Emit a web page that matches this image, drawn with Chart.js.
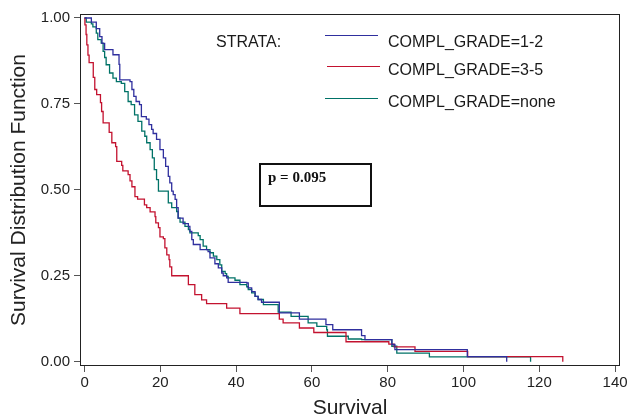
<!DOCTYPE html>
<html>
<head>
<meta charset="utf-8">
<script src="https://cdn.jsdelivr.net/npm/chart.js@4"></script>
<style>
  body { margin: 0; background: #fff; }
  canvas { display: block; }
</style>
</head>
<body>
<canvas id="kmChart" width="627" height="419"></canvas>
<script>
// Kaplan-Meier curves (time, survival after each drop)
const gradeLabels = ["COMPL_GRADE=1-2", "COMPL_GRADE=3-5", "COMPL_GRADE=none"];
const gradeColors = ["#2f2f9e", "#c3122f", "#007267"];

const times12 = [0, 1.8, 3.1, 4.0, 4.6, 5.3, 7.5, 9.1, 9.3, 12.0, 12.5, 13.0, 13.6, 14.5, 15.0, 16.3, 17.0, 17.7, 18.1, 19.0,
  19.9, 20.8, 21.4, 22.1, 22.5, 23.0, 23.4, 23.9, 24.3, 24.7, 26.0, 27.4, 27.8, 28.3, 28.7, 30.5, 32.6, 33.1, 34.4, 35.3,
  36.2, 36.6, 37.5, 37.9, 42.8, 43.2, 44.1, 45.0, 45.8, 46.7, 51.4, 56.7, 63.7, 65.5, 73.1, 74.0, 81.1, 81.9, 101.0, 111.4];
const surv12 = [1, 0.988, 0.969, 0.946, 0.926, 0.908, 0.893, 0.865, 0.820, 0.815, 0.792, 0.772, 0.757, 0.748, 0.713, 0.706, 0.690, 0.676, 0.664, 0.647,
  0.617, 0.593, 0.568, 0.539, 0.520, 0.496, 0.486, 0.472, 0.448, 0.418, 0.402, 0.394, 0.379, 0.355, 0.341, 0.326, 0.320, 0.302, 0.285, 0.273,
  0.258, 0.250, 0.244, 0.231, 0.229, 0.215, 0.204, 0.190, 0.181, 0.173, 0.142, 0.124, 0.108, 0.093, 0.076, 0.064, 0.050, 0.035, 0.015, 0];

const times35 = [0, 0.1, 0.4, 0.6, 0.9, 1.2, 2.3, 2.7, 3.2, 4.2, 4.5, 4.9, 6.5, 7.2, 8.2, 8.5, 9.8, 10.1, 11.5, 12.0,
  12.5, 13.3, 14.0, 15.8, 16.4, 17.3, 18.6, 18.8, 19.5, 19.9, 20.8, 21.2, 21.7, 22.3, 22.5, 23.0, 27.4, 29.1, 30.9, 32.2,
  37.5, 41.0, 51.4, 52.4, 56.7, 60.5, 69.0, 80.3, 81.7, 87.2, 101.1, 126.2];
const surv35 = [1, 0.98, 0.952, 0.922, 0.892, 0.870, 0.827, 0.792, 0.777, 0.754, 0.728, 0.695, 0.667, 0.637, 0.626, 0.583, 0.571, 0.555, 0.544, 0.526,
  0.509, 0.480, 0.473, 0.456, 0.448, 0.436, 0.422, 0.404, 0.390, 0.363, 0.358, 0.331, 0.311, 0.297, 0.276, 0.250, 0.224, 0.195, 0.180, 0.169,
  0.156, 0.140, 0.124, 0.113, 0.098, 0.085, 0.058, 0.051, 0.043, 0.030, 0.015, 0];

const timesNone = [0, 0.45, 1.8, 2.2, 3.1, 3.5, 4.4, 4.9, 5.3, 5.7, 6.6, 7.5, 8.4, 9.7, 10.6, 11.5, 12.3, 13.2, 14.1, 15.1,
  15.9, 16.4, 17.3, 17.9, 18.4, 19.0, 19.5, 22.1, 23.0, 24.3, 24.7, 25.2, 26.5, 27.4, 27.8, 30.0, 30.5, 31.3, 32.2, 33.1,
  34.0, 34.9, 35.7, 36.2, 37.1, 37.5, 37.9, 39.7, 41.0, 42.8, 43.2, 44.1, 45.0, 45.8, 47.2, 51.1, 54.5, 59.0, 61.3, 63.9,
  64.1, 69.6, 73.1, 81.1, 82.4, 91.0, 117.7];
const survNone = [1, 0.988, 0.983, 0.974, 0.956, 0.937, 0.927, 0.903, 0.885, 0.864, 0.840, 0.825, 0.815, 0.810, 0.786, 0.757, 0.748, 0.718, 0.699, 0.671,
  0.656, 0.637, 0.617, 0.593, 0.559, 0.530, 0.496, 0.462, 0.448, 0.437, 0.418, 0.406, 0.394, 0.384, 0.375, 0.367, 0.355, 0.336, 0.326, 0.317,
  0.307, 0.297, 0.282, 0.263, 0.256, 0.248, 0.244, 0.237, 0.224, 0.218, 0.210, 0.200, 0.190, 0.181, 0.166, 0.144, 0.132, 0.113, 0.103, 0.093,
  0.074, 0.066, 0.064, 0.045, 0.025, 0.014, 0];

const xTicks = [0, 20, 40, 60, 80, 100, 120, 140];
const yTicks = [0, 0.25, 0.5, 0.75, 1];
const legendTitle = "STRATA:";
const pText = "p = 0.095";

const toPoints = (t, s) => t.map((v, i) => ({ x: v, y: s[i] }));
const series = [toPoints(times12, surv12), toPoints(times35, surv35), toPoints(timesNone, survNone)];

const sans = '"Liberation Sans", Arial, sans-serif';

const extras = {
  id: "extras",
  afterDraw(chart) {
    const { ctx, chartArea: a } = chart;
    ctx.save();
    // frame
    ctx.strokeStyle = "#222";
    ctx.lineWidth = 1;
    ctx.strokeRect(a.left + 0.5, a.top + 0.5, a.right - a.left - 1, a.bottom - a.top - 1);

    // legend
    ctx.font = "16px " + sans;
    ctx.fillStyle = "#1a1a1a";
    ctx.textBaseline = "alphabetic";
    ctx.fillText(legendTitle, 216, 46.5);
    const rows = [[35.5, 46.5, 325], [66.5, 74.5, 327], [98.5, 106.5, 325]];
    rows.forEach(([ly, ty, lx], i) => {
      ctx.strokeStyle = gradeColors[i];
      ctx.lineWidth = 1.2;
      ctx.beginPath();
      ctx.moveTo(lx, ly);
      ctx.lineTo(lx + 53, ly);
      ctx.stroke();
      ctx.fillText(gradeLabels[i], 388, ty);
    });

    // p-value box
    ctx.strokeStyle = "#111";
    ctx.lineWidth = 2;
    ctx.strokeRect(260, 164, 111, 42);
    ctx.font = 'bold 15px "Liberation Serif", "Times New Roman", serif';
    ctx.fillStyle = "#111";
    ctx.fillText(pText, 268, 181.5);
    ctx.restore();
  }
};

new Chart(document.getElementById("kmChart"), {
  type: "line",
  data: {
    datasets: series.map((pts, i) => ({
      label: gradeLabels[i],
      data: pts,
      borderColor: gradeColors[i],
      borderWidth: 1.3,
      pointRadius: 0,
      stepped: "before",
      fill: false
    }))
  },
  options: {
    responsive: false,
    animation: false,
    layout: { padding: { top: 14, right: 7, left: 0, bottom: 0 } },
    plugins: {
      legend: { display: false },
      tooltip: { enabled: false }
    },
    scales: {
      x: {
        type: "linear",
        min: -1.2,
        max: 141.3,
        afterBuildTicks: s => { s.ticks = xTicks.map(v => ({ value: v })); },
        afterFit: s => { s.height = 53; s.paddingLeft = 0; s.paddingRight = 0; },
        grid: { drawOnChartArea: false, tickLength: 6, color: "#555" },
        border: { display: false },
        ticks: {
          font: { size: 15, family: sans },
          color: "#222",
          padding: 2,
          maxRotation: 0,
          autoSkip: false,
          callback: v => String(v)
        },
        title: {
          display: true,
          text: "Survival",
          font: { size: 21, family: sans, lineHeight: 1 },
          color: "#222",
          padding: { top: 0, bottom: 0 }
        }
      },
      y: {
        min: -0.0125,
        max: 1.0116,
        afterBuildTicks: s => { s.ticks = yTicks.map(v => ({ value: v })); },
        afterFit: s => { s.width = 80; s.paddingTop = 0; s.paddingBottom = 0; },
        grid: { drawOnChartArea: false, tickLength: 6, color: "#555" },
        border: { display: false },
        ticks: {
          font: { size: 15, family: sans },
          color: "#222",
          padding: 4,
          callback: v => v.toFixed(2)
        },
        title: {
          display: true,
          text: "Survival Distribution Function",
          font: { size: 21, family: sans, lineHeight: 1 },
          color: "#222",
          padding: { top: 9, bottom: 0 }
        }
      }
    }
  },
  plugins: [extras]
});
</script>
</body>
</html>
